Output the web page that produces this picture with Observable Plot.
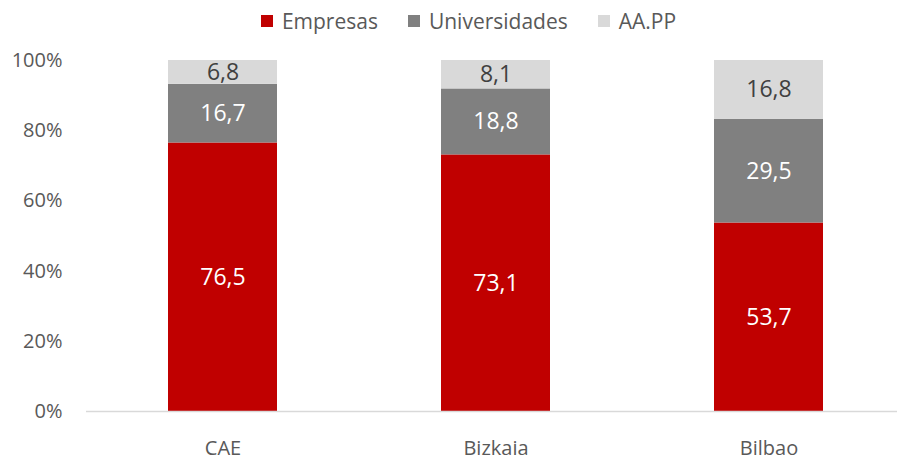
<!DOCTYPE html>
<html><head><meta charset="utf-8">
<script src="https://cdn.jsdelivr.net/npm/d3@7"></script>
<script src="https://cdn.jsdelivr.net/npm/@observablehq/plot@0.6"></script>
<style>
body{margin:0;background:#fff;font-family:"Open Sans",sans-serif;}
#legend{height:42px;display:flex;justify-content:center;align-items:center;gap:30px;font-size:21px;color:#595959;padding-left:40px;box-sizing:border-box;}
#legend span.sw{display:inline-block;width:12px;height:12px;margin-right:9px;}
#legend div{display:flex;align-items:center;}
</style></head>
<body>
<div id="legend"></div>
<div id="chart"></div>
<script>
const categories = ["CAE", "Bizkaia", "Bilbao"];
const seriesNames = ["Empresas", "Universidades", "AA.PP"];
const empresas = [76.5, 73.1, 53.7];
const universidades = [16.7, 18.8, 29.5];
const aapp = [6.8, 8.1, 16.8];
const colors = ["#C00000", "#808080", "#D9D9D9"];
const yTicks = [0, 20, 40, 60, 80, 100];

const seriesValues = [empresas, universidades, aapp];
const data = [];
seriesNames.forEach((s, i) => categories.forEach((c, j) => data.push({cat: c, series: s, value: seriesValues[i][j]})));

const leg = document.getElementById("legend");
seriesNames.forEach((s, i) => {
  const d = document.createElement("div");
  d.innerHTML = `<span class="sw" style="background:${colors[i]}"></span>${s}`;
  leg.appendChild(d);
});

const fmt = v => v.toFixed(1).replace(".", ",");

const chart = Plot.plot({
  width: 897,
  height: 434,
  marginLeft: 86,
  marginRight: 0,
  marginTop: 18,
  marginBottom: 65,
  style: {fontFamily: "'Open Sans', sans-serif", background: "white"},
  x: {domain: categories, range: [86, 905], paddingInner: 0.6, paddingOuter: 0.3, label: null},
  y: {domain: [0, 100], label: null},
  color: {domain: seriesNames, range: colors},
  marks: [
    Plot.barY(data, {x: "cat", y: "value", fill: "series", order: seriesNames}),
    Plot.ruleY([0], {stroke: "#D9D9D9", strokeWidth: 1.3}),
    Plot.text(data, Plot.stackY({x: "cat", y: "value", z: "series", order: seriesNames,
      text: d => fmt(d.value), fill: d => d.series === "AA.PP" ? "#404040" : "#ffffff", fontSize: 23})),
    Plot.axisY({ticks: yTicks, tickFormat: d => d + "%", tickSize: 0, tickPadding: 24, fontSize: 20, color: "#595959", label: null}),
    Plot.axisX({tickSize: 0, tickPadding: 29, fontSize: 20, color: "#595959", label: null})
  ]
});
document.getElementById("chart").appendChild(chart);
</script>
</body></html>
